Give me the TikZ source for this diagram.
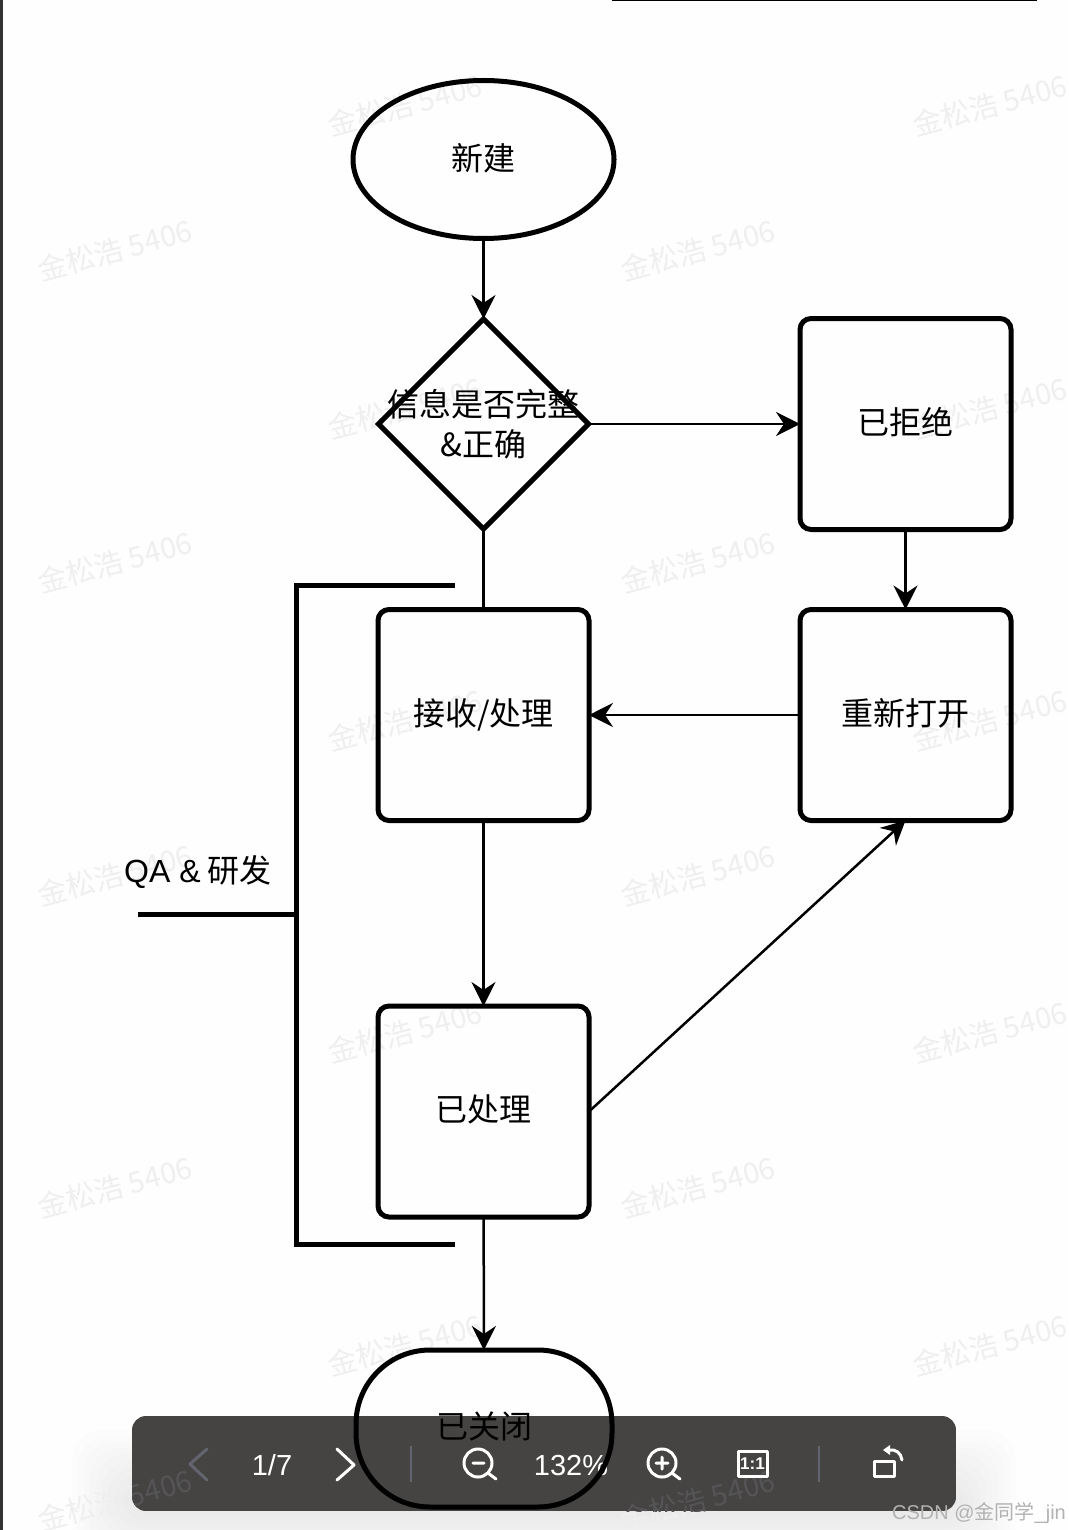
\documentclass[tikz,border=0pt]{standalone}
\usepackage{fontspec}
\usepackage{xcolor}
\usepackage{tikz}
\usetikzlibrary{arrows.meta,shapes.geometric}
\setmainfont{Noto Sans CJK SC}
\newfontfamily\latinfont{Liberation Sans}
\definecolor{marktext}{HTML}{EFEFEF}
\definecolor{barfill}{HTML}{454443}
\definecolor{barline}{HTML}{62656E}
\definecolor{barmark}{HTML}{555456}

\begin{document}
\begin{tikzpicture}[x=1pt,y=-1pt,
    flowtext/.style={font=\fontsize{32}{40}\selectfont,text=black,inner sep=0pt},
    flowline/.style={draw,line width=5pt},
    flowbox/.style={rectangle,flowline,rounded corners=11pt,minimum width=211pt,minimum height=211pt,outer sep=0pt,flowtext,text depth=6pt},
    flowlink/.style={draw,line width=2.5pt,-{Stealth[length=24pt,width=24pt,inset=8pt]}},
    markstyle/.style={font=\fontsize{29}{29}\selectfont,text=marktext,rotate=15,inner sep=0pt},
    barbtn/.style={draw=white,line width=3pt,line cap=round,line join=round},
    bartext/.style={font=\latinfont\fontsize{29}{29}\selectfont,text=white,inner sep=0pt}]
    \useasboundingbox (0,0) rectangle (1068,1530);
    \fill[white!99.5!black] (0,0) rectangle (1068,1530);
    \fill[black!80] (0,0) rectangle (3,1530);
    \draw[line width=2pt] (612,0) -- (1037,0);
    % bar shadow
    \foreach \s in {6,12,...,60}
      \fill[black,opacity=.008,rounded corners=30pt] (132-\s,1490-\s) rectangle (956+\s,1511+\s);
    % watermark
    \foreach \mx/\my [count=\mi] in {405/105,990/105,115/250,698/250,405/408,990/408,115/562,698/562,405/720,990/720,115/875,698/875,405/1032,990/1032,115/1187,698/1187,405/1345,990/1345,115/1500,698/1500}
      \node (mark\mi) [markstyle] at (\mx,\my) {金松浩 5406};
    % viewer bar
    \begin{scope}
      \clip[rounded corners=14pt] (132,1416) rectangle (956,1511);
      \fill[barfill] (132,1416) rectangle (956,1511);
      \node (markbara) [markstyle,text=barmark] at (115,1500) {金松浩 5406};
      \node (markbarb) [markstyle,text=barmark] at (698,1500) {金松浩 5406};
    \end{scope}
    \draw[barbtn,draw=barline] (207,1449) -- (190,1464) -- (207,1480);
    \node (page) [bartext] at (272,1465) {1/7};
    \draw[barbtn] (337,1449) -- (354,1465) -- (337,1480);
    \draw[line width=2pt,barline] (411,1446) -- (411,1482);
    \draw[line width=2pt,barline] (819,1446) -- (819,1482);
    \draw[barbtn] (478,1463) circle (14pt) (488,1473) -- (496,1479) (473,1463) -- (484,1463);
    \node (zoomval) [bartext] at (571,1465) {132\%};
    \draw[barbtn] (662,1463) circle (14pt) (672,1473) -- (680,1479) (656,1463) -- (668,1463) (662,1457) -- (662,1469);
    \draw[barbtn,line cap=butt] (738,1451) rectangle (767,1476);
    \node (ratio) [bartext,font=\latinfont\bfseries\fontsize{17}{17}\selectfont] at (752.5,1463.5) {1:1};
    \draw[barbtn,line cap=butt] (874,1461) rectangle (894,1476);
    \draw[barbtn] (889,1450) .. controls (896,1449) and (901,1453) .. (902,1460);
    \fill[white] (883,1450) -- (890,1445) -- (890,1455) -- cycle;
    \node (csdn) [inner sep=0pt,font=\fontsize{20}{20}\selectfont,text=black!30] at (979,1513) {{\latinfont CSDN @}金同学{\latinfont\_jin}};
    % flow
    \node (new) [ellipse,flowline,minimum width=261pt,minimum height=158pt,outer sep=0pt,flowtext,text depth=6pt] at (483.5,159.5) {新建};
    \node (check) [diamond,aspect=1,flowline,minimum width=210pt,minimum height=210pt,inner sep=0pt,outer sep=0pt,
      label={[flowtext,align=center]center:信息是否完整\\\&正确}] at (483.5,424) {};
    \node (reject) [flowbox] at (905.5,424) {已拒绝};
    \node (reopen) [flowbox] at (905.5,715) {重新打开};
    \node (accept) [flowbox] at (483.5,715) {接收/处理};
    \node (done) [flowbox] at (483.5,1111.5) {已处理};
    \node (closed) [rectangle,flowline,rounded corners=74pt,minimum width=256pt,minimum height=157pt,outer sep=0pt,flowtext,text depth=6pt] at (484,1428.5) {已关闭};
    \draw[flowlink] (new) -- (check);
    \draw[flowlink] (check) -- (reject);
    \draw[line width=2.5pt] (check) -- (accept);
    \draw[flowlink] (reject) -- (reopen);
    \draw[flowlink] (reopen) -- (accept);
    \draw[flowlink] (accept) -- (done);
    \draw[flowlink] (done.east) -- (reopen.south);
    \draw[flowlink] (done) -- (closed);
    % QA bracket
    \coordinate (brtop) at (455,585);
    \coordinate (brbot) at (455,1244);
    \coordinate (brmid) at (296,914);
    \coordinate (brstem) at (138,914);
    \draw[flowline] (brtop) -- (296,585) -- (296,1244) -- (brbot);
    \draw[flowline] (brstem) -- (brmid);
    \node (qa) [flowtext] at (198,872) {{\latinfont QA \&} 研发};
\end{tikzpicture}
\end{document}
